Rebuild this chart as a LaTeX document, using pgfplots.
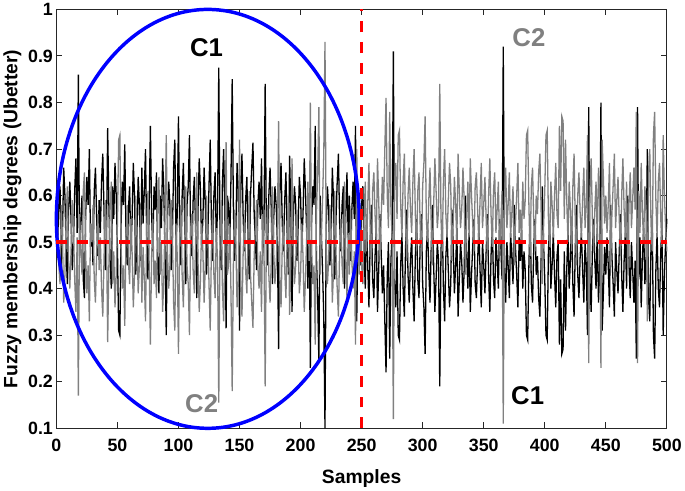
\documentclass[border=0pt]{standalone}
\usepackage{pgfplots}
\usepackage{pgfplotstable}
\pgfplotsset{compat=1.18}
\usepackage{fontspec}
\setmainfont{Liberation Sans}
\definecolor{gline}{RGB}{128,128,128}
\definecolor{axc}{RGB}{38,38,38}
\pgfplotstableread[row sep=\\]{
x c1 c2 \\
1 0.50 0.53 \\ 2 0.58 0.45 \\ 3 0.62 0.41 \\ 4 0.45 0.58 \\ 5 0.52 0.51 \\ 6 0.66 0.37 \\ 7 0.60 0.43 \\ 8 0.48 0.55 \\ 9 0.41 0.62 \\ 10 0.57 0.46 \\
11 0.63 0.40 \\ 12 0.55 0.48 \\ 13 0.44 0.59 \\ 14 0.50 0.53 \\ 15 0.61 0.42 \\ 16 0.68 0.35 \\ 17 0.52 0.51 \\ 18 0.86 0.17 \\ 19 0.47 0.56 \\ 20 0.55 0.48 \\
21 0.60 0.43 \\ 22 0.42 0.61 \\ 23 0.38 0.65 \\ 24 0.56 0.47 \\ 25 0.64 0.39 \\ 26 0.58 0.45 \\ 27 0.70 0.33 \\ 28 0.49 0.54 \\ 29 0.53 0.50 \\ 30 0.45 0.58 \\
31 0.61 0.42 \\ 32 0.66 0.37 \\ 33 0.55 0.48 \\ 34 0.47 0.56 \\ 35 0.59 0.44 \\ 36 0.52 0.51 \\ 37 0.63 0.40 \\ 38 0.69 0.34 \\ 39 0.57 0.46 \\ 40 0.44 0.59 \\
41 0.50 0.53 \\ 42 0.745 0.285 \\ 43 0.58 0.45 \\ 44 0.46 0.57 \\ 45 0.40 0.63 \\ 46 0.62 0.41 \\ 47 0.55 0.48 \\ 48 0.67 0.36 \\ 49 0.60 0.43 \\ 50 0.49 0.54 \\
51 0.31 0.72 \\ 52 0.30 0.73 \\ 53 0.54 0.49 \\ 54 0.63 0.40 \\ 55 0.58 0.45 \\ 56 0.71 0.32 \\ 57 0.52 0.51 \\ 58 0.45 0.58 \\ 59 0.57 0.46 \\ 60 0.62 0.41 \\
61 0.48 0.55 \\ 62 0.55 0.48 \\ 63 0.67 0.36 \\ 64 0.60 0.43 \\ 65 0.43 0.60 \\ 66 0.52 0.51 \\ 67 0.64 0.39 \\ 68 0.58 0.45 \\ 69 0.46 0.57 \\ 70 0.66 0.37 \\
71 0.54 0.49 \\ 72 0.61 0.42 \\ 73 0.70 0.33 \\ 74 0.50 0.53 \\ 75 0.42 0.61 \\ 76 0.58 0.45 \\ 77 0.75 0.28 \\ 78 0.56 0.47 \\ 79 0.48 0.55 \\ 80 0.62 0.41 \\
81 0.57 0.46 \\ 82 0.65 0.38 \\ 83 0.45 0.58 \\ 84 0.39 0.64 \\ 85 0.60 0.43 \\ 86 0.53 0.50 \\ 87 0.68 0.35 \\ 88 0.61 0.42 \\ 89 0.47 0.56 \\ 90 0.30 0.73 \\
91 0.55 0.48 \\ 92 0.63 0.40 \\ 93 0.58 0.45 \\ 94 0.44 0.59 \\ 95 0.51 0.52 \\ 96 0.66 0.37 \\ 97 0.72 0.31 \\ 98 0.49 0.54 \\ 99 0.56 0.47 \\ 100 0.77 0.26 \\
101 0.52 0.51 \\ 102 0.45 0.58 \\ 103 0.60 0.43 \\ 104 0.67 0.36 \\ 105 0.55 0.48 \\ 106 0.41 0.62 \\ 107 0.58 0.45 \\ 108 0.62 0.41 \\ 109 0.73 0.30 \\ 110 0.50 0.53 \\
111 0.47 0.56 \\ 112 0.59 0.44 \\ 113 0.64 0.39 \\ 114 0.53 0.50 \\ 115 0.38 0.65 \\ 116 0.57 0.46 \\ 117 0.68 0.35 \\ 118 0.61 0.42 \\ 119 0.49 0.54 \\ 120 0.55 0.48 \\
121 0.66 0.37 \\ 122 0.58 0.45 \\ 123 0.43 0.60 \\ 124 0.51 0.52 \\ 125 0.62 0.41 \\ 126 0.72 0.31 \\ 127 0.54 0.49 \\ 128 0.46 0.57 \\ 129 0.60 0.43 \\ 130 0.65 0.38 \\
131 0.50 0.53 \\ 132 0.57 0.46 \\ 133 0.875 0.155 \\ 134 0.52 0.51 \\ 135 0.44 0.59 \\ 136 0.63 0.40 \\ 137 0.70 0.33 \\ 138 0.55 0.48 \\ 139 0.315 0.715 \\ 140 0.60 0.43 \\
141 0.58 0.45 \\ 142 0.49 0.54 \\ 143 0.64 0.39 \\ 144 0.85 0.18 \\ 145 0.57 0.46 \\ 146 0.46 0.57 \\ 147 0.53 0.50 \\ 148 0.67 0.36 \\ 149 0.61 0.42 \\ 150 0.31 0.72 \\
151 0.62 0.41 \\ 152 0.69 0.34 \\ 153 0.55 0.48 \\ 154 0.48 0.55 \\ 155 0.59 0.44 \\ 156 0.64 0.39 \\ 157 0.51 0.52 \\ 158 0.42 0.61 \\ 159 0.60 0.43 \\ 160 0.66 0.37 \\
161 0.714 0.316 \\ 162 0.56 0.47 \\ 163 0.50 0.53 \\ 164 0.44 0.59 \\ 165 0.58 0.45 \\ 166 0.63 0.40 \\ 167 0.55 0.48 \\ 168 0.68 0.35 \\ 169 0.47 0.56 \\ 170 0.53 0.50 \\
171 0.84 0.19 \\ 172 0.52 0.51 \\ 173 0.45 0.58 \\ 174 0.60 0.43 \\ 175 0.66 0.37 \\ 176 0.57 0.46 \\ 177 0.41 0.62 \\ 178 0.55 0.48 \\ 179 0.62 0.41 \\ 180 0.58 0.45 \\
181 0.50 0.53 \\ 182 0.27 0.76 \\ 183 0.61 0.42 \\ 184 0.67 0.36 \\ 185 0.54 0.49 \\ 186 0.48 0.55 \\ 187 0.59 0.44 \\ 188 0.65 0.38 \\ 189 0.52 0.51 \\ 190 0.43 0.60 \\
191 0.686 0.344 \\ 192 0.57 0.46 \\ 193 0.35 0.68 \\ 194 0.55 0.48 \\ 195 0.62 0.41 \\ 196 0.58 0.45 \\ 197 0.46 0.57 \\ 198 0.53 0.50 \\ 199 0.64 0.39 \\ 200 0.60 0.43 \\
201 0.49 0.54 \\ 202 0.56 0.47 \\ 203 0.68 0.35 \\ 204 0.61 0.42 \\ 205 0.52 0.51 \\ 206 0.40 0.63 \\ 207 0.57 0.46 \\ 208 0.23 0.80 \\ 209 0.54 0.49 \\ 210 0.62 0.41 \\
211 0.58 0.45 \\ 212 0.75 0.28 \\ 213 0.47 0.56 \\ 214 0.38 0.65 \\ 215 0.24 0.79 \\ 216 0.60 0.43 \\ 217 0.52 0.51 \\ 218 0.44 0.59 \\ 219 0.34 0.69 \\ 220 0.10 0.93 \\
221 0.53 0.50 \\ 222 0.62 0.41 \\ 223 0.57 0.46 \\ 224 0.45 0.58 \\ 225 0.50 0.53 \\ 226 0.66 0.37 \\ 227 0.59 0.44 \\ 228 0.42 0.61 \\ 229 0.55 0.48 \\ 230 0.63 0.40 \\
231 0.69 0.34 \\ 232 0.54 0.49 \\ 233 0.48 0.55 \\ 234 0.58 0.45 \\ 235 0.62 0.41 \\ 236 0.40 0.63 \\ 237 0.56 0.47 \\ 238 0.65 0.38 \\ 239 0.51 0.52 \\ 240 0.60 0.43 \\
241 0.46 0.57 \\ 242 0.57 0.46 \\ 243 0.63 0.40 \\ 244 0.55 0.48 \\ 245 0.75 0.28 \\ 246 0.33 0.70 \\ 247 0.52 0.51 \\ 248 0.60 0.43 \\ 249 0.45 0.58 \\ 250 0.58 0.45 \\
251 0.62 0.41 \\ 252 0.48 0.55 \\ 253 0.40 0.63 \\ 254 0.55 0.48 \\ 255 0.45 0.58 \\ 256 0.36 0.67 \\ 257 0.50 0.53 \\ 258 0.58 0.45 \\ 259 0.42 0.61 \\ 260 0.38 0.65 \\
261 0.47 0.56 \\ 262 0.53 0.50 \\ 263 0.35 0.68 \\ 264 0.44 0.59 \\ 265 0.56 0.47 \\ 266 0.48 0.55 \\ 267 0.39 0.64 \\ 268 0.45 0.58 \\ 269 0.33 0.70 \\ 270 0.22 0.81 \\
271 0.43 0.60 \\ 272 0.50 0.53 \\ 273 0.25 0.78 \\ 274 0.46 0.57 \\ 275 0.52 0.51 \\ 276 0.91 0.12 \\ 277 0.41 0.62 \\ 278 0.36 0.67 \\ 279 0.48 0.55 \\ 280 0.30 0.73 \\
281 0.29 0.74 \\ 282 0.45 0.58 \\ 283 0.52 0.51 \\ 284 0.40 0.63 \\ 285 0.34 0.69 \\ 286 0.49 0.54 \\ 287 0.57 0.46 \\ 288 0.43 0.60 \\ 289 0.37 0.66 \\ 290 0.46 0.57 \\
291 0.51 0.52 \\ 292 0.40 0.63 \\ 293 0.33 0.70 \\ 294 0.47 0.56 \\ 295 0.55 0.48 \\ 296 0.42 0.61 \\ 297 0.38 0.65 \\ 298 0.50 0.53 \\ 299 0.56 0.47 \\ 300 0.41 0.62 \\
301 0.36 0.67 \\ 302 0.26 0.77 \\ 303 0.48 0.55 \\ 304 0.53 0.50 \\ 305 0.44 0.59 \\ 306 0.37 0.66 \\ 307 0.49 0.54 \\ 308 0.58 0.45 \\ 309 0.45 0.58 \\ 310 0.35 0.68 \\
311 0.42 0.61 \\ 312 0.50 0.53 \\ 313 0.46 0.57 \\ 314 0.19 0.84 \\ 315 0.48 0.55 \\ 316 0.55 0.48 \\ 317 0.40 0.63 \\ 318 0.33 0.70 \\ 319 0.47 0.56 \\ 320 0.52 0.51 \\
321 0.44 0.59 \\ 322 0.36 0.67 \\ 323 0.41 0.62 \\ 324 0.57 0.46 \\ 325 0.49 0.54 \\ 326 0.39 0.64 \\ 327 0.45 0.58 \\ 328 0.53 0.50 \\ 329 0.34 0.69 \\ 330 0.42 0.61 \\
331 0.50 0.53 \\ 332 0.46 0.57 \\ 333 0.37 0.66 \\ 334 0.44 0.59 \\ 335 0.60 0.43 \\ 336 0.48 0.55 \\ 337 0.40 0.63 \\ 338 0.52 0.51 \\ 339 0.35 0.68 \\ 340 0.43 0.60 \\
341 0.49 0.54 \\ 342 0.55 0.48 \\ 343 0.41 0.62 \\ 344 0.38 0.65 \\ 345 0.46 0.57 \\ 346 0.53 0.50 \\ 347 0.44 0.59 \\ 348 0.36 0.67 \\ 349 0.50 0.53 \\ 350 0.45 0.58 \\
351 0.39 0.64 \\ 352 0.48 0.55 \\ 353 0.56 0.47 \\ 354 0.43 0.60 \\ 355 0.35 0.68 \\ 356 0.47 0.56 \\ 357 0.54 0.49 \\ 358 0.42 0.61 \\ 359 0.38 0.65 \\ 360 0.51 0.52 \\
361 0.46 0.57 \\ 362 0.40 0.63 \\ 363 0.55 0.48 \\ 364 0.49 0.54 \\ 365 0.42 0.61 \\ 366 0.92 0.11 \\ 367 0.44 0.59 \\ 368 0.37 0.66 \\ 369 0.50 0.53 \\ 370 0.45 0.58 \\
371 0.38 0.65 \\ 372 0.52 0.51 \\ 373 0.47 0.56 \\ 374 0.41 0.62 \\ 375 0.58 0.45 \\ 376 0.49 0.54 \\ 377 0.43 0.60 \\ 378 0.36 0.67 \\ 379 0.51 0.52 \\ 380 0.46 0.57 \\
381 0.53 0.50 \\ 382 0.40 0.63 \\ 383 0.48 0.55 \\ 384 0.44 0.59 \\ 385 0.30 0.73 \\ 386 0.29 0.74 \\ 387 0.45 0.58 \\ 388 0.56 0.47 \\ 389 0.41 0.62 \\ 390 0.37 0.66 \\
391 0.49 0.54 \\ 392 0.55 0.48 \\ 393 0.43 0.60 \\ 394 0.47 0.56 \\ 395 0.38 0.65 \\ 396 0.34 0.69 \\ 397 0.46 0.57 \\ 398 0.62 0.41 \\ 399 0.50 0.53 \\ 400 0.42 0.61 \\
401 0.30 0.73 \\ 402 0.29 0.74 \\ 403 0.48 0.55 \\ 404 0.54 0.49 \\ 405 0.40 0.63 \\ 406 0.45 0.58 \\ 407 0.52 0.51 \\ 408 0.43 0.60 \\ 409 0.36 0.67 \\ 410 0.47 0.56 \\
411 0.50 0.53 \\ 412 0.28 0.75 \\ 413 0.42 0.61 \\ 414 0.26 0.77 \\ 415 0.27 0.76 \\ 416 0.48 0.55 \\ 417 0.31 0.72 \\ 418 0.44 0.59 \\ 419 0.53 0.50 \\ 420 0.40 0.63 \\
421 0.46 0.57 \\ 422 0.55 0.48 \\ 423 0.41 0.62 \\ 424 0.34 0.69 \\ 425 0.49 0.54 \\ 426 0.58 0.45 \\ 427 0.43 0.60 \\ 428 0.38 0.65 \\ 429 0.47 0.56 \\ 430 0.52 0.51 \\
431 0.44 0.59 \\ 432 0.37 0.66 \\ 433 0.50 0.53 \\ 434 0.45 0.58 \\ 435 0.30 0.73 \\ 436 0.79 0.24 \\ 437 0.42 0.61 \\ 438 0.35 0.68 \\ 439 0.48 0.55 \\ 440 0.55 0.48 \\
441 0.46 0.57 \\ 442 0.40 0.63 \\ 443 0.53 0.50 \\ 444 0.37 0.66 \\ 445 0.44 0.59 \\ 446 0.80 0.23 \\ 447 0.31 0.72 \\ 448 0.39 0.64 \\ 449 0.49 0.54 \\ 450 0.43 0.60 \\
451 0.51 0.52 \\ 452 0.45 0.58 \\ 453 0.36 0.67 \\ 454 0.58 0.45 \\ 455 0.47 0.56 \\ 456 0.41 0.62 \\ 457 0.34 0.69 \\ 458 0.50 0.53 \\ 459 0.44 0.59 \\ 460 0.39 0.64 \\
461 0.48 0.55 \\ 462 0.56 0.47 \\ 463 0.43 0.60 \\ 464 0.35 0.68 \\ 465 0.46 0.57 \\ 466 0.52 0.51 \\ 467 0.40 0.63 \\ 468 0.60 0.43 \\ 469 0.45 0.58 \\ 470 0.38 0.65 \\
471 0.50 0.53 \\ 472 0.44 0.59 \\ 473 0.37 0.66 \\ 474 0.46 0.57 \\ 475 0.25 0.78 \\ 476 0.79 0.24 \\ 477 0.42 0.61 \\ 478 0.51 0.52 \\ 479 0.36 0.67 \\ 480 0.47 0.56 \\
481 0.53 0.50 \\ 482 0.41 0.62 \\ 483 0.46 0.57 \\ 484 0.70 0.33 \\ 485 0.38 0.65 \\ 486 0.33 0.70 \\ 487 0.49 0.54 \\ 488 0.55 0.48 \\ 489 0.30 0.73 \\ 490 0.25 0.78 \\
491 0.44 0.59 \\ 492 0.52 0.51 \\ 493 0.40 0.63 \\ 494 0.36 0.67 \\ 495 0.48 0.55 \\ 496 0.54 0.49 \\ 497 0.30 0.73 \\ 498 0.43 0.60 \\ 499 0.50 0.53 \\ 500 0.55 0.48 \\
}\datatable
\begin{document}
\begin{tikzpicture}
\begin{axis}[
  scale only axis, width=615bp, height=422bp,
  xmin=0, xmax=500, ymin=0.1, ymax=1,
  xtick={0,50,100,150,200,250,300,350,400,450,500},
  ytick={0.1,0.2,0.3,0.4,0.5,0.6,0.7,0.8,0.9,1},
  tick align=inside, tick pos=both,
  major tick length=6bp,
  axis line style={line width=1.2bp, draw=axc},
  every tick/.style={line width=1bp, draw=axc},
  /pgf/number format/assume math mode=true,
  ticklabel style={font=\fontsize{18}{21}\selectfont\bfseries},
  xticklabel style={yshift=-7bp},
  label style={font=\fontsize{19.5}{22}\selectfont\bfseries},
  xlabel={Samples}, ylabel={Fuzzy membership degrees (Ubetter)},
  xlabel style={yshift=-11bp},
  clip=false,
]
\addplot[black, line width=1.3bp] table[x=x, y=c1] {\datatable};
\addplot[gline, line width=1.3bp] table[x=x, y=c2] {\datatable};
\draw[blue, line width=3.5bp] (axis cs:124,0.55) ellipse [x radius=124, y radius=0.45];
\addplot[red, line width=3.5bp, dash pattern=on 11bp off 10bp] coordinates {(0,0.5) (500,0.5)};
\addplot[red, line width=3.5bp, dash pattern=on 11bp off 10bp] coordinates {(250,0.1) (250,1)};
\node[font=\fontsize{26}{29}\selectfont\bfseries, text=black] at (axis cs:123,0.917) {C1};
\node[font=\fontsize{26}{29}\selectfont\bfseries, text=gline] at (axis cs:119,0.154) {C2};
\node[font=\fontsize{26}{29}\selectfont\bfseries, text=gline] at (axis cs:387,0.939) {C2};
\node[font=\fontsize{26}{29}\selectfont\bfseries, text=black] at (axis cs:386,0.17) {C1};
\end{axis}
\end{tikzpicture}
\end{document}
